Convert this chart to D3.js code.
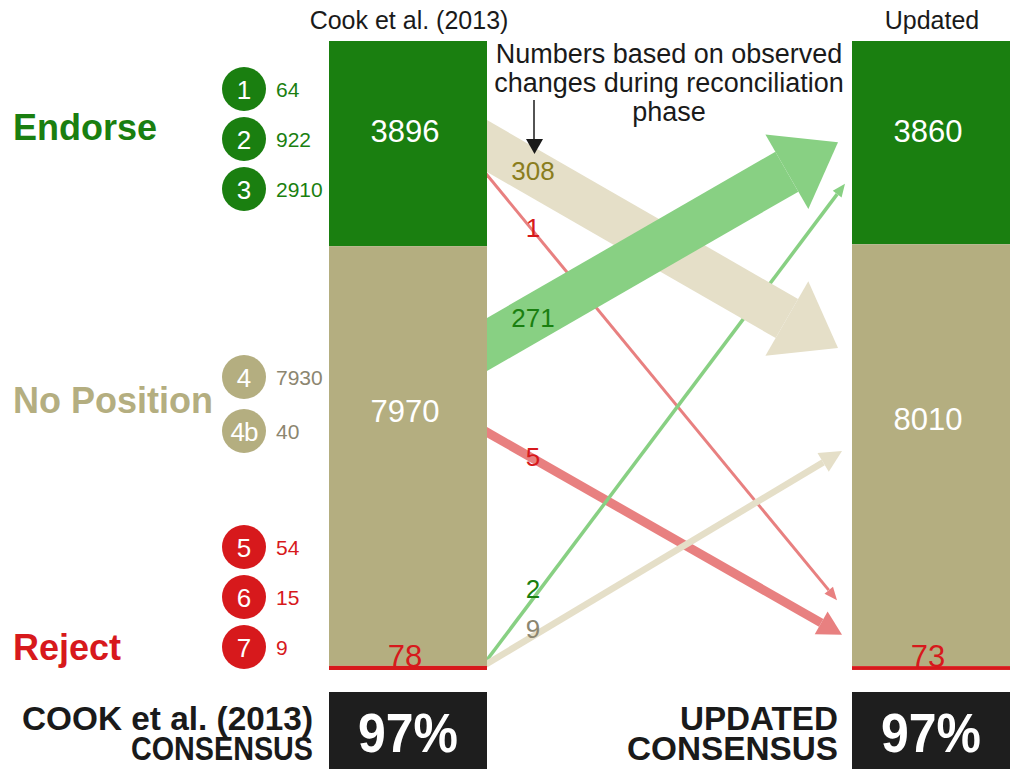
<!DOCTYPE html>
<html><head><meta charset="utf-8">
<script src="https://cdn.jsdelivr.net/npm/d3@7"></script>
<style>
html,body{margin:0;padding:0;background:#fff;}
svg{display:block;font-family:"Liberation Sans",Arial,Helvetica,sans-serif;}
</style></head>
<body>
<svg id="chart" width="1013" height="769"></svg>
<script>
// ---------------- DATA ----------------
const categories = ["Endorse", "No Position", "Reject"];
const cookValues = [3896, 7970, 78];
const updatedValues = [3860, 8010, 73];
const columnTitles = ["Cook et al. (2013)", "Updated"];
const ratingLevels = ["1", "2", "3", "4", "4b", "5", "6", "7"];
const ratingCounts = [64, 922, 2910, 7930, 40, 54, 15, 9];
const ratingCategory = [0, 0, 0, 1, 1, 2, 2, 2];
const flowFrom = [0, 0, 1, 1, 2, 2];
const flowTo = [1, 2, 0, 2, 0, 1];
const flowValues = [308, 1, 271, 5, 2, 9];
const annotationLines = ["Numbers based on observed", "changes during reconciliation", "phase"];
const consensusLabels = [["COOK et al. (2013)", "CONSENSUS"], ["UPDATED", "CONSENSUS"]];
const consensusValues = ["97%", "97%"];

// ---------------- STYLE / LAYOUT ----------------
const catColor = ["#1a7f10", "#b4ae80", "#d7191c"];
const flowColor = ["#88d083", "#e5dfc8", "#e88080"]; // by target category
const sideNumColor = ["#1a7f10", "#8c8670", "#d7191c"];
const flowLabelColor = ["#8a7d1e", "#d7191c", "#1a7f10", "#d7191c", "#1a7f10", "#8c8670"];

const svg = d3.select("#chart");
const barW = 158;
const xBars = d3.scaleOrdinal().domain([0, 1]).range([329, 852]);
const total = d3.sum(cookValues);
const y = d3.scaleLinear().domain([0, total]).range([41, 670]);
const yFrac = d3.scaleLinear().domain([0, 1]).range([41, 670]);

function stackOf(vals) {
  let c = 0;
  return vals.map((v, i) => { const s = { i, v, y0: c, y1: c + v }; c += v; return s; });
}
const columns = [stackOf(cookValues), stackOf(updatedValues)];

// flow layout: anchors as fraction of bar height, body width, head length/width, tip gap, draw order
const flowLayout = [
  { f0: 0.167, f1: 0.488, w: 45, hl: 59, hw: 86, gap: 14, order: 4 },
  { f0: 0.213, f1: 0.889, w: 3, hl: 13, hw: 11, gap: 15, order: 1 },
  { f0: 0.4825, f1: 0.161, w: 46, hl: 59, hw: 86, gap: 14, order: 5 },
  { f0: 0.622, f1: 0.944, w: 9, hl: 24, hw: 26, gap: 10, order: 0 },
  { f0: 0.984, f1: 0.227, w: 3.5, hl: 13, hw: 11, gap: 7, order: 2 },
  { f0: 0.990, f1: 0.652, w: 6.5, hl: 22, hw: 22, gap: 10, order: 3 }
];
const flowLabelBaseline = [180, 237, 327, 466, 598, 638];

// ---------------- ARROWS ----------------
const gFlows = svg.append("g");
const flows = flowValues.map((v, i) => ({ i, v, from: flowFrom[i], to: flowTo[i], L: flowLayout[i] }))
  .sort((a, b) => a.L.order - b.L.order);
flows.forEach(fl => {
  const L = fl.L;
  const y0s = yFrac(L.f0);
  const xs = xBars(0) + barW;
  const x1 = xBars(1) - L.gap, y1 = yFrac(L.f1);
  const dx = x1 - xs, dy = y1 - y0s, len = Math.hypot(dx, dy);
  const ux = dx / len, uy = dy / len, px = -uy, py = ux;
  const bx = x1 - ux * L.hl, by = y1 - uy * L.hl;
  const col = flowColor[fl.to];
  const wv = L.w / Math.abs(ux);
  const c1 = [bx - px * L.w / 2, by - py * L.w / 2];
  const c2 = [bx + px * L.w / 2, by + py * L.w / 2];
  const top = c1[1] < c2[1] ? c1 : c2, bot = c1[1] < c2[1] ? c2 : c1;
  const body = [[xs, y0s - wv / 2], top, bot, [xs, y0s + wv / 2]];
  gFlows.append("path").attr("d", d3.line()(body) + "Z").attr("fill", col);
  const head = [
    [bx + px * L.hw / 2, by + py * L.hw / 2],
    [x1, y1],
    [bx - px * L.hw / 2, by - py * L.hw / 2]
  ];
  gFlows.append("path").attr("d", d3.line()(head) + "Z").attr("fill", col);
});

// flow labels
svg.append("g").selectAll("text").data(flowValues).join("text")
  .attr("x", xBars(0) + barW + 46)
  .attr("y", (d, i) => flowLabelBaseline[i])
  .attr("text-anchor", "middle")
  .attr("font-size", 26)
  .attr("fill", (d, i) => flowLabelColor[i])
  .text(d => d);

// ---------------- BARS ----------------
columns.forEach((col, ci) => {
  const g = svg.append("g");
  g.selectAll("rect").data(col).join("rect")
    .attr("x", xBars(ci)).attr("width", barW)
    .attr("y", d => y(d.y0)).attr("height", d => y(d.y1) - y(d.y0))
    .attr("fill", d => catColor[d.i]);
  g.selectAll("text.val").data(col).join("text")
    .attr("class", "val")
    .attr("x", xBars(ci) + barW / 2 - 3)
    .attr("y", d => d.i === 2 ? y(d.y0) + 1 : (d.i === 0 ? 142 : (ci === 0 ? 422 : 430)))
    .attr("text-anchor", "middle")
    .attr("font-size", 31)
    .attr("fill", d => d.i === 2 ? catColor[2] : "#ffffff")
    .text(d => d.v);
  svg.append("text")
    .attr("x", xBars(ci) + barW / 2 + 1).attr("y", 29)
    .attr("text-anchor", "middle").attr("font-size", 25).attr("fill", "#1a1a1a")
    .text(columnTitles[ci]);
});

// ---------------- CATEGORY LABELS ----------------
const catBaseline = [140, 413, 660];
svg.append("g").selectAll("text").data(categories).join("text")
  .attr("x", 13).attr("y", (d, i) => catBaseline[i])
  .attr("font-size", 36).attr("font-weight", "bold")
  .attr("fill", (d, i) => catColor[i])
  .text(d => d);

// ---------------- RATING CIRCLES ----------------
const groupStart = [89, 377, 547], groupStep = [50, 54, 50];
const circY = ratingLevels.map((r, i) => {
  const c = ratingCategory[i];
  const k = ratingCategory.slice(0, i).filter(x => x === c).length;
  return groupStart[c] + k * groupStep[c];
});
const gR = svg.append("g");
gR.selectAll("circle").data(ratingLevels).join("circle")
  .attr("cx", 244).attr("cy", (d, i) => circY[i]).attr("r", 22)
  .attr("fill", (d, i) => catColor[ratingCategory[i]]);
gR.selectAll("text.lvl").data(ratingLevels).join("text").attr("class", "lvl")
  .attr("x", 244).attr("y", (d, i) => circY[i] + 9.5)
  .attr("text-anchor", "middle").attr("font-size", 26).attr("fill", "#fff")
  .attr("letter-spacing", d => d.length > 1 ? -1 : 0)
  .text(d => d);
gR.selectAll("text.cnt").data(ratingCounts).join("text").attr("class", "cnt")
  .attr("x", 276).attr("y", (d, i) => circY[i] + 8)
  .attr("font-size", 21).attr("fill", (d, i) => sideNumColor[ratingCategory[i]])
  .text(d => d);

// ---------------- ANNOTATION ----------------
svg.append("g").selectAll("text").data(annotationLines).join("text")
  .attr("x", 669).attr("y", (d, i) => 63 + i * 29)
  .attr("text-anchor", "middle").attr("font-size", 27).attr("fill", "#1a1a1a")
  .text(d => d);
svg.append("line").attr("x1", 534).attr("x2", 534).attr("y1", 100).attr("y2", 141)
  .attr("stroke", "#1a1a1a").attr("stroke-width", 1.5);
svg.append("path").attr("d", d3.line()([[526, 139], [543, 139], [534.5, 154]]) + "Z").attr("fill", "#1a1a1a");

// ---------------- CONSENSUS BOXES ----------------
const narrow = '"Liberation Sans Narrow","Liberation Sans",Arial,sans-serif';
const labelRight = [313, 838];
const lineWidths = [[291, 182], [158, 211]];
consensusValues.forEach((v, ci) => {
  svg.append("rect").attr("x", xBars(ci)).attr("y", 692).attr("width", barW).attr("height", 77).attr("fill", "#1e1e1e");
  svg.append("text").attr("x", xBars(ci) + barW / 2).attr("y", 752)
    .attr("text-anchor", "middle").attr("font-family", narrow).attr("font-weight", "bold")
    .attr("font-size", 55).attr("fill", "#fff")
    .attr("textLength", 100).attr("lengthAdjust", "spacingAndGlyphs")
    .text(v);
  const t = svg.append("text")
    .attr("text-anchor", "end").attr("font-family", narrow).attr("font-weight", "bold")
    .attr("font-size", 34).attr("fill", "#1a1a1a");
  consensusLabels[ci].forEach((s, li) => {
    t.append("tspan").attr("x", labelRight[ci]).attr("y", 730 + li * 30)
      .attr("textLength", lineWidths[ci][li]).attr("lengthAdjust", "spacingAndGlyphs")
      .text(s);
  });
});
</script>
</body></html>
